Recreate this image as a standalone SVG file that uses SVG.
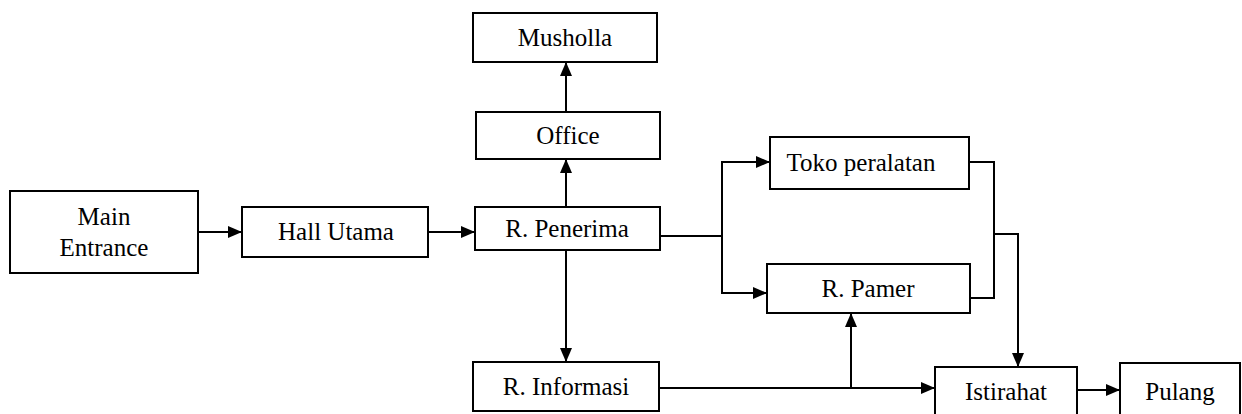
<svg xmlns="http://www.w3.org/2000/svg" width="1242" height="414" viewBox="0 0 1242 414">
  <style>
    .box { fill: #fff; stroke: #000; stroke-width: 2; }
    .lbl { font-family: "Liberation Serif", "Times New Roman", serif; font-size: 25px; fill: #000; text-anchor: middle; }
    .wire { fill: none; stroke: #000; stroke-width: 2; }
  </style>
  <defs>
    <marker id="arrow" viewBox="0 0 14 12" refX="14" refY="6" markerWidth="14" markerHeight="12" markerUnits="userSpaceOnUse" orient="auto">
      <path d="M0,0 L14,6 L0,12 Z" fill="#000"/>
    </marker>
  </defs>
  <rect width="1242" height="414" fill="#fff"/>

  <g id="connectors">
    <line class="wire" x1="198" y1="232" x2="242" y2="232" marker-end="url(#arrow)"/>
    <line class="wire" x1="428" y1="232" x2="475" y2="232" marker-end="url(#arrow)"/>
    <line class="wire" x1="566" y1="207" x2="566" y2="159" marker-end="url(#arrow)"/>
    <line class="wire" x1="566" y1="112" x2="566" y2="62" marker-end="url(#arrow)"/>
    <line class="wire" x1="566" y1="250" x2="566" y2="362" marker-end="url(#arrow)"/>
    <polyline class="wire" points="660,236 722,236"/>
    <polyline class="wire" points="722,293 722,162 770,162" marker-end="url(#arrow)"/>
    <polyline class="wire" points="722,236 722,293 767,293" marker-end="url(#arrow)"/>
    <polyline class="wire" points="969,162 994,162 994,298 970,298"/>
    <polyline class="wire" points="994,234 1018,234 1018,367" marker-end="url(#arrow)"/>
    <line class="wire" x1="659" y1="388" x2="935" y2="388" marker-end="url(#arrow)"/>
    <line class="wire" x1="851" y1="388" x2="851" y2="313" marker-end="url(#arrow)"/>
    <line class="wire" x1="1077" y1="390" x2="1120" y2="390" marker-end="url(#arrow)"/>
  </g>

  <g id="main-entrance">
    <rect class="box" x="10" y="191" width="188" height="82"/>
    <text class="lbl" x="104" y="225">Main</text>
    <text class="lbl" x="104" y="256">Entrance</text>
  </g>
  <g id="hall-utama">
    <rect class="box" x="242" y="207" width="186" height="50"/>
    <text class="lbl" x="336" y="240">Hall Utama</text>
  </g>
  <g id="r-penerima">
    <rect class="box" x="475" y="207" width="185" height="43"/>
    <text class="lbl" x="567" y="237">R. Penerima</text>
  </g>
  <g id="office">
    <rect class="box" x="476" y="112" width="184" height="47"/>
    <text class="lbl" x="568" y="144">Office</text>
  </g>
  <g id="musholla">
    <rect class="box" x="473" y="13" width="184" height="49"/>
    <text class="lbl" x="565" y="46">Musholla</text>
  </g>
  <g id="toko-peralatan">
    <rect class="box" x="770" y="137" width="199" height="52"/>
    <text class="lbl" x="861" y="171">Toko peralatan</text>
  </g>
  <g id="r-pamer">
    <rect class="box" x="767" y="264" width="203" height="49"/>
    <text class="lbl" x="868" y="297">R. Pamer</text>
  </g>
  <g id="r-informasi">
    <rect class="box" x="473" y="362" width="186" height="49"/>
    <text class="lbl" x="566" y="395">R. Informasi</text>
  </g>
  <g id="istirahat">
    <rect class="box" x="935" y="367" width="142" height="52"/>
    <text class="lbl" x="1006" y="400">Istirahat</text>
  </g>
  <g id="pulang">
    <rect class="box" x="1120" y="363" width="120" height="56"/>
    <text class="lbl" x="1180" y="400">Pulang</text>
  </g>
</svg>
